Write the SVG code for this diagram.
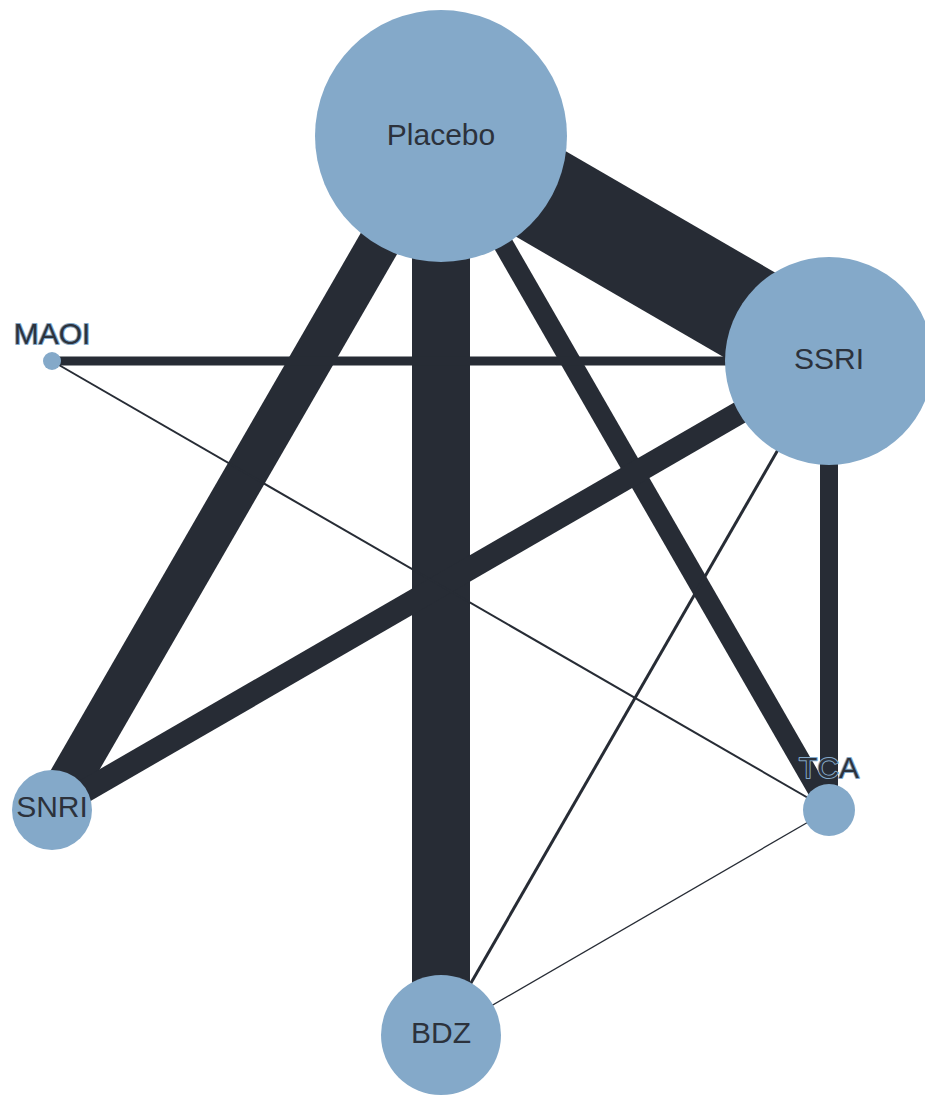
<svg xmlns="http://www.w3.org/2000/svg" width="925" height="1095" viewBox="0 0 925 1095">
<style>
.edge{stroke:#272c35;stroke-linecap:butt;fill:none}
.node{fill:#84a9c9}
.lbl{font-family:"Liberation Sans",Arial,sans-serif;font-size:30px;fill:#2c323c;text-anchor:middle}
.out{stroke:#84a9c9;stroke-width:2;paint-order:stroke;stroke-linejoin:round}
</style>
<rect width="925" height="1095" fill="#ffffff"/>
<g id="connectors">
<line class="edge" x1="441" y1="136" x2="829" y2="361" stroke-width="99"/>
<line class="edge" x1="441" y1="136" x2="441" y2="1035" stroke-width="58"/>
<line class="edge" x1="441" y1="136" x2="52" y2="810" stroke-width="42"/>
<line class="edge" x1="441" y1="136" x2="829" y2="810" stroke-width="20"/>
<line class="edge" x1="829" y1="361" x2="52" y2="810" stroke-width="23"/>
<line class="edge" x1="52" y1="361" x2="829" y2="361" stroke-width="9"/>
<line class="edge" x1="52" y1="361" x2="829" y2="810" stroke-width="2"/>
<line class="edge" x1="829" y1="361" x2="829" y2="810" stroke-width="18"/>
<line class="edge" x1="829" y1="361" x2="441" y2="1035" stroke-width="3"/>
<line class="edge" x1="829" y1="810" x2="441" y2="1035" stroke-width="1.3"/>
</g>
<g id="node-placebo"><circle class="node" cx="441" cy="136" r="126"/></g>
<g id="node-ssri"><circle class="node" cx="829" cy="361" r="104"/></g>
<g id="node-maoi"><circle class="node" cx="52" cy="361" r="9"/></g>
<g id="node-snri"><circle class="node" cx="52" cy="810" r="40"/></g>
<g id="node-tca"><circle class="node" cx="829" cy="810" r="26"/></g>
<g id="node-bdz"><circle class="node" cx="441" cy="1035" r="60"/></g>
<g id="labels">
<text class="lbl" x="441" y="145">Placebo</text>
<text class="lbl" x="829" y="369">SSRI</text>
<text class="lbl" x="52" y="817">SNRI</text>
<text class="lbl" x="441" y="1043">BDZ</text>
<text class="lbl out" x="52" y="344">MAOI</text>
<text class="lbl out" x="829" y="778">TCA</text>
</g>
</svg>
